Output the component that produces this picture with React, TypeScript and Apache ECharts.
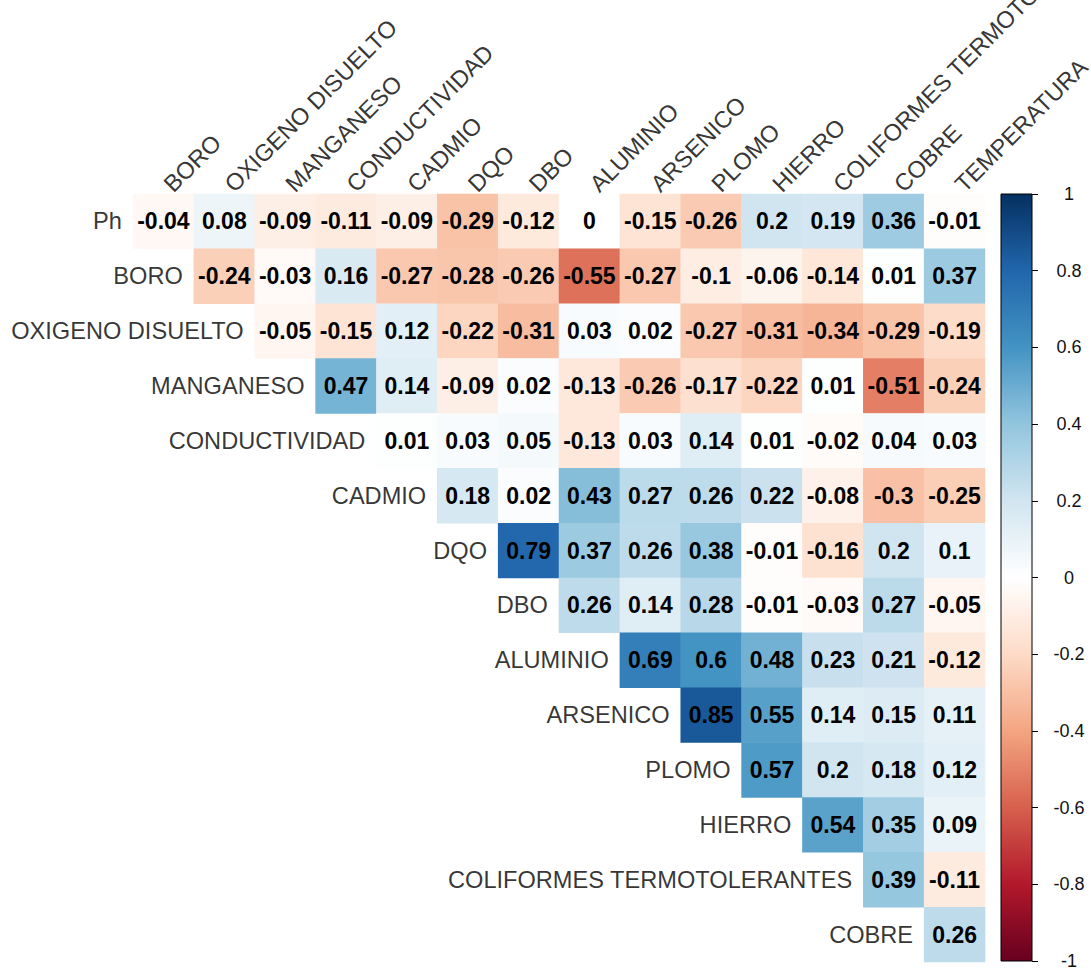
import React, { useEffect, useRef } from "react";
import * as echarts from "echarts";

const rowNames = [
  "Ph", "BORO", "OXIGENO DISUELTO", "MANGANESO", "CONDUCTIVIDAD", "CADMIO", "DQO",
  "DBO", "ALUMINIO", "ARSENICO", "PLOMO", "HIERRO", "COLIFORMES TERMOTOLERANTES", "COBRE",
];
const colNames = [
  "BORO", "OXIGENO DISUELTO", "MANGANESO", "CONDUCTIVIDAD", "CADMIO", "DQO", "DBO",
  "ALUMINIO", "ARSENICO", "PLOMO", "HIERRO", "COLIFORMES TERMOTOLERANTES", "COBRE", "TEMPERATURA",
];

// upper-triangle correlations; row i starts at column i
const rowPh = [-0.04, 0.08, -0.09, -0.11, -0.09, -0.29, -0.12, 0, -0.15, -0.26, 0.2, 0.19, 0.36, -0.01];
const rowBoro = [-0.24, -0.03, 0.16, -0.27, -0.28, -0.26, -0.55, -0.27, -0.1, -0.06, -0.14, 0.01, 0.37];
const rowOxigeno = [-0.05, -0.15, 0.12, -0.22, -0.31, 0.03, 0.02, -0.27, -0.31, -0.34, -0.29, -0.19];
const rowManganeso = [0.47, 0.14, -0.09, 0.02, -0.13, -0.26, -0.17, -0.22, 0.01, -0.51, -0.24];
const rowConductividad = [0.01, 0.03, 0.05, -0.13, 0.03, 0.14, 0.01, -0.02, 0.04, 0.03];
const rowCadmio = [0.18, 0.02, 0.43, 0.27, 0.26, 0.22, -0.08, -0.3, -0.25];
const rowDqo = [0.79, 0.37, 0.26, 0.38, -0.01, -0.16, 0.2, 0.1];
const rowDbo = [0.26, 0.14, 0.28, -0.01, -0.03, 0.27, -0.05];
const rowAluminio = [0.69, 0.6, 0.48, 0.23, 0.21, -0.12];
const rowArsenico = [0.85, 0.55, 0.14, 0.15, 0.11];
const rowPlomo = [0.57, 0.2, 0.18, 0.12];
const rowHierro = [0.54, 0.35, 0.09];
const rowColiformes = [0.39, -0.11];
const rowCobre = [0.26];

const rowsValues = [
  rowPh, rowBoro, rowOxigeno, rowManganeso, rowConductividad, rowCadmio, rowDqo,
  rowDbo, rowAluminio, rowArsenico, rowPlomo, rowHierro, rowColiformes, rowCobre,
];

const colorbarRange = [-1, 1];
const palette = [
  "#67001F", "#B2182B", "#D6604D", "#F4A582", "#FDDBC7", "#FFFFFF",
  "#D1E5F0", "#92C5DE", "#4393C3", "#2166AC", "#053061",
];

const FONT = "'Liberation Sans', Arial, sans-serif";

export default function App() {
  const ref = useRef<HTMLDivElement>(null);
  useEffect(() => {
    if (!ref.current) return;
    const chart = echarts.init(ref.current, undefined, { renderer: "svg" });

    const cells: any[] = [];
    rowsValues.forEach((vals, i) => {
      vals.forEach((v, k) => {
        cells.push([i + k, i, v]);
      });
    });

    const stops = palette
      .slice()
      .reverse()
      .map((c, idx) => ({ offset: idx / (palette.length - 1), color: c }));

    chart.setOption({
      animation: false,
      backgroundColor: "#fff",
      textStyle: { fontFamily: FONT },
      grid: [
        { left: 133, top: 194, width: 852, height: 768 },
        { left: 1001, top: 194, width: 31, height: 768 },
      ],
      xAxis: [
        { type: "category", data: colNames, gridIndex: 0, show: false },
        { type: "category", data: ["bar"], gridIndex: 1, show: false },
      ],
      yAxis: [
        { type: "category", data: rowNames, gridIndex: 0, inverse: true, show: false },
        {
          type: "value",
          gridIndex: 1,
          min: colorbarRange[0],
          max: colorbarRange[1],
          interval: 0.2,
          position: "right",
          axisLine: { show: false },
          axisTick: { show: true, length: 6, lineStyle: { color: "#000", width: 1 } },
          splitLine: { show: false },
          axisLabel: {
            align: "center",
            margin: 37,
            fontSize: 18,
            color: "#111",
            fontFamily: FONT,
          },
        },
      ],
      visualMap: {
        show: false,
        type: "continuous",
        min: colorbarRange[0],
        max: colorbarRange[1],
        dimension: 2,
        seriesIndex: 0,
        inRange: { color: palette },
      },
      series: [
        {
          type: "heatmap",
          xAxisIndex: 0,
          yAxisIndex: 0,
          data: cells,
          label: {
            show: true,
            fontSize: 23,
            fontWeight: "bold",
            color: "#000",
            fontFamily: FONT,
            formatter: (p: any) => String(p.value[2]),
          },
          itemStyle: { borderWidth: 0 },
          emphasis: { disabled: true },
        },
        {
          type: "scatter",
          xAxisIndex: 0,
          yAxisIndex: 0,
          symbolSize: 1,
          itemStyle: { color: "rgba(0,0,0,0)" },
          data: rowNames.map((n, i) => [i, i, n]),
          label: {
            show: true,
            position: "left",
            distance: 41,
            fontSize: 23.6,
            color: "#000",
            fontFamily: FONT,
            formatter: (p: any) => p.value[2],
          },
          silent: true,
        },
        {
          type: "scatter",
          xAxisIndex: 0,
          yAxisIndex: 0,
          symbolSize: 1,
          itemStyle: { color: "rgba(0,0,0,0)" },
          data: colNames.map((n, j) => [j, 0, n]),
          label: {
            show: true,
            position: [5, -33],
            rotate: 45,
            align: "left",
            verticalAlign: "middle",
            fontSize: 23.6,
            color: "#000",
            fontFamily: FONT,
            formatter: (p: any) => p.value[2],
          },
          silent: true,
        },
        {
          type: "custom",
          xAxisIndex: 1,
          yAxisIndex: 1,
          data: [[0, colorbarRange[0], colorbarRange[1]]],
          renderItem: (params: any, api: any) => {
            const top = api.coord([0, api.value(2)]);
            const bottom = api.coord([0, api.value(1)]);
            const w = api.size([1, 0])[0];
            return {
              type: "rect",
              shape: { x: top[0] - w / 2, y: top[1], width: w, height: bottom[1] - top[1] },
              style: {
                fill: new echarts.graphic.LinearGradient(0, 0, 0, 1, stops),
                stroke: "#000",
                lineWidth: 1,
              },
            };
          },
          silent: true,
        },
      ],
    });
    return () => chart.dispose();
  }, []);
  return (
    <div
      ref={ref}
      style={{ position: "absolute", left: 0, top: 0, width: 1091, height: 970 }}
    />
  );
}
